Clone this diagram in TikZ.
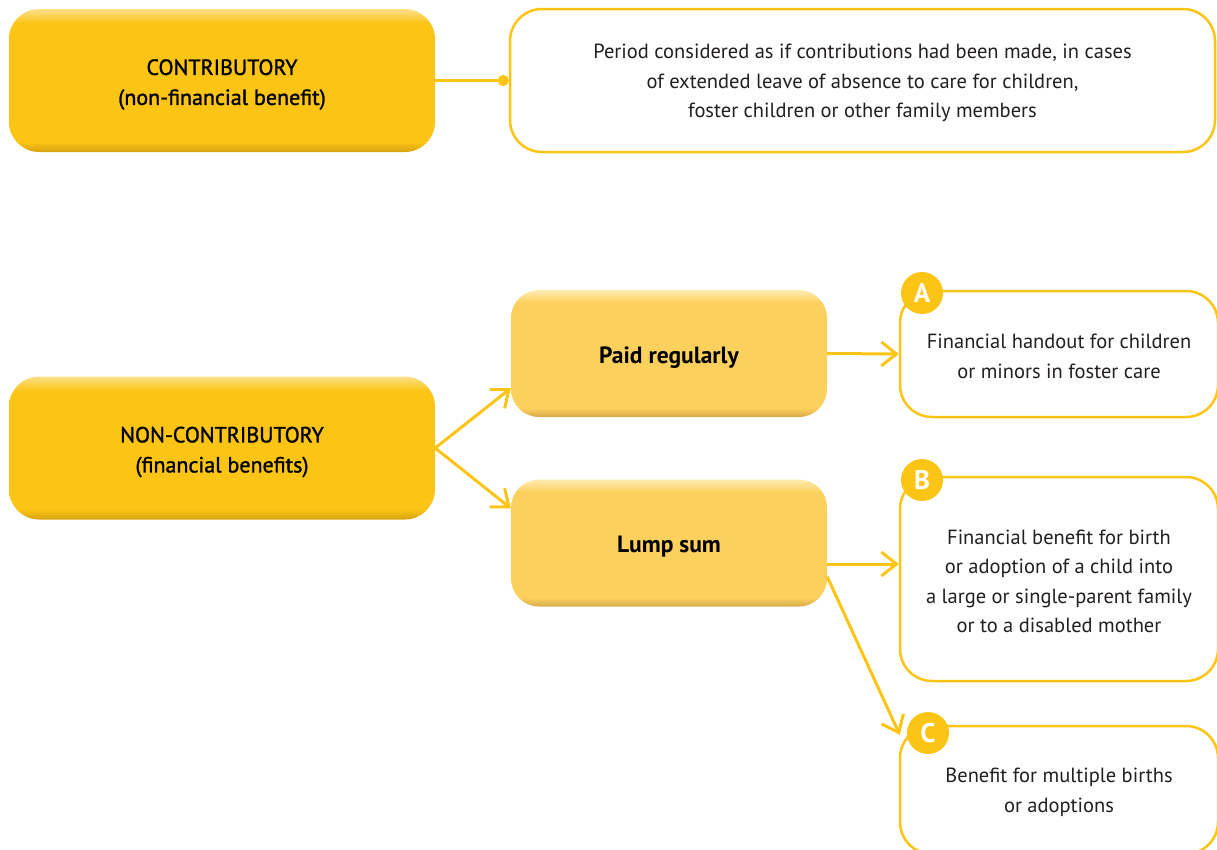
\documentclass[tikz,border=0pt]{standalone}
\usepackage{fontspec}
\setmainfont{PT Sans}
\newfontfamily\semib[FakeBold=1.3]{PT Sans}
\usetikzlibrary{arrows.meta,calc}
\definecolor{ylw}{HTML}{FCC415}
\definecolor{gmain}{HTML}{FCC414}
\definecolor{glight}{HTML}{FEE08A}
\definecolor{gdark}{HTML}{D6A212}
\definecolor{pmain}{HTML}{FCD05C}
\definecolor{plight}{HTML}{FEEBB5}
\definecolor{pdark}{HTML}{D6AC4C}
\definecolor{txt}{HTML}{231F20}
\pgfdeclareverticalshading{goldbox}{100bp}{color(0bp)=(gdark); color(25bp)=(gdark); color(28.5bp)=(gmain); color(70bp)=(gmain); color(75bp)=(glight); color(100bp)=(glight)}
\pgfdeclareverticalshading{palebox}{100bp}{color(0bp)=(pdark); color(25bp)=(pdark); color(28.5bp)=(pmain); color(70bp)=(pmain); color(75bp)=(plight); color(100bp)=(plight)}
\begin{document}
\begin{tikzpicture}[x=1pt,y=-1pt,
  gold/.style={rectangle, rounded corners=30pt, minimum width=426pt, minimum height=143pt,
    shading=goldbox, inner sep=0pt},
  goldtext/.style={align=center, text=black, yshift=-4pt, font=\semib\fontsize{22}{30}\selectfont},
  pale/.style={rectangle, rounded corners=28pt, minimum width=316pt, minimum height=127pt,
    shading=palebox, inner sep=0pt},
  paletext/.style={align=center, text=black, yshift=-4pt, font=\bfseries\fontsize{23.5}{30}\selectfont},
  infobox/.style={rectangle, rounded corners=32pt, draw=ylw, line width=2.5pt, fill=white, inner sep=0pt},
  infotext/.style={align=center, text=txt, yshift=-2.5pt, font=\fontsize{20.5}{29.5}\selectfont},
  badge/.style={circle, fill=ylw, minimum size=42pt, inner sep=0pt, text=white,
    font=\bfseries\fontsize{27}{27}\selectfont},
  link/.style={draw=ylw, line width=3pt},
  arr/.style={link, -{Straight Barb[length=15pt,width=24pt]}}
]
\useasboundingbox (0,0) rectangle (1217,849);
\clip (0,0) rectangle (1217,849);

% left column
\node[gold, label={[goldtext]center:CONTRIBUTORY\\(non-financial benefit)}] (contrib) at (222,80.5) {};
\node[gold, label={[goldtext]center:NON-CONTRIBUTORY\\(financial benefits)}] (noncontrib) at (222,448) {};

% middle column
\node[pale, label={[paletext]center:Paid regularly}] (paid) at (669,353.5) {};
\node[pale, label={[paletext]center:Lump sum}] (lump) at (669,543) {};

% right column
\node[infobox, minimum width=705pt, minimum height=143pt,
  label={[infotext]center:Period considered as if contributions had been made, in cases\\
   of extended leave of absence to care for children,\\
   foster children or other family members}] (top) at (862.5,80.5) {};
\node[infobox, minimum width=318pt, minimum height=126pt,
  label={[infotext]center:Financial handout for children\\or minors in foster care}] (boxA) at (1059,354) {};
\node[infobox, minimum width=318pt, minimum height=204pt,
  label={[infotext]center:Financial benefit for birth\\or adoption of a child into\\a large or single-parent family\\or to a disabled mother}] (boxB) at (1059,579) {};
\node[infobox, minimum width=318pt, minimum height=128pt,
  label={[infotext]center:Benefit for multiple births\\or adoptions}] (boxC) at (1059,790) {};

% badges
\node[badge] (bA) at (922,293) {A};
\node[badge] (bB) at (922,480) {B};
\node[badge] (bC) at (928,733) {C};

% connectors
\draw[link, -{Circle[length=11pt]}] (contrib.east) -- (top.west);
\draw[arr] (noncontrib.east) -- ($(paid.south west)+(0,-29)$);
\draw[arr] (noncontrib.east) -- ($(lump.north west)+(0,29)$);
\draw[arr] (paid.east) -- (boxA.west);
\coordinate (lb) at ($(lump.east)+(0,21)$);
\draw[arr] (lb) -- (lb -| boxB.west);
\draw[arr] ($(lump.south east)+(0,-30)$) -- ($(boxC.north west)+(1,10)$);
\end{tikzpicture}
\end{document}
